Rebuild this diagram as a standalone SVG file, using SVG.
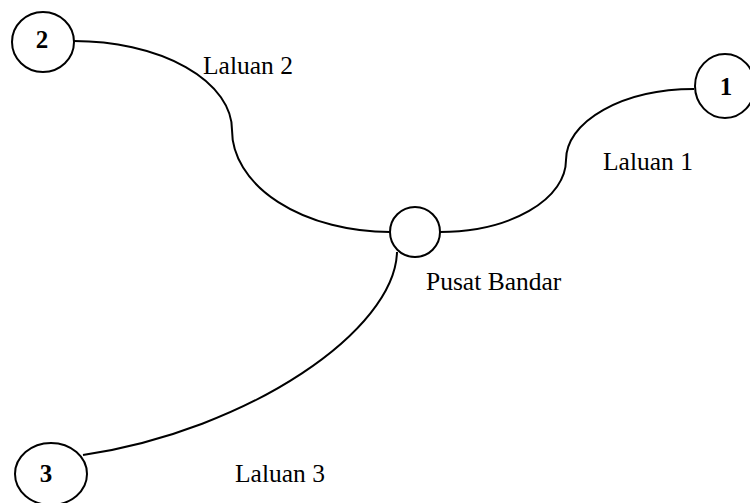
<svg xmlns="http://www.w3.org/2000/svg" width="750" height="503" viewBox="0 0 750 503">
<style>
.n{fill:#fff;stroke:#000;stroke-width:2}
.c{fill:none;stroke:#000;stroke-width:2}
.num{font-family:"Liberation Serif","Times New Roman",serif;font-weight:bold;font-size:25px;text-anchor:middle}
.lbl{font-family:"Liberation Serif","Times New Roman",serif;font-size:25.5px}
</style>
<rect width="750" height="503" fill="#fff"/>
<g id="connectors">
<path class="c" d="M74,41 A158,89 0 0 1 232,130 A158,102 0 0 0 390,232"/>
<path class="c" d="M694,89 A128,71 0 0 0 566,160 A126,72 0 0 1 440,232"/>
<path class="c" d="M397,252 C395,330 250,430 83,455"/>
</g>
<g id="node-2">
<ellipse class="n" cx="43" cy="42" rx="31" ry="30"/>
<text class="num" x="42" y="48">2</text>
</g>
<g id="node-1">
<ellipse class="n" cx="725" cy="86" rx="30" ry="32"/>
<text class="num" x="726" y="95">1</text>
</g>
<g id="node-3">
<ellipse class="n" cx="51" cy="474" rx="36" ry="31"/>
<text class="num" x="46" y="482">3</text>
</g>
<g id="node-center">
<circle class="n" cx="415" cy="232" r="25"/>
<text class="lbl" x="426" y="290">Pusat Bandar</text>
</g>
<g id="labels">
<text class="lbl" x="203" y="74">Laluan 2</text>
<text class="lbl" x="603" y="170">Laluan 1</text>
<text class="lbl" x="235" y="482">Laluan 3</text>
</g>
</svg>
